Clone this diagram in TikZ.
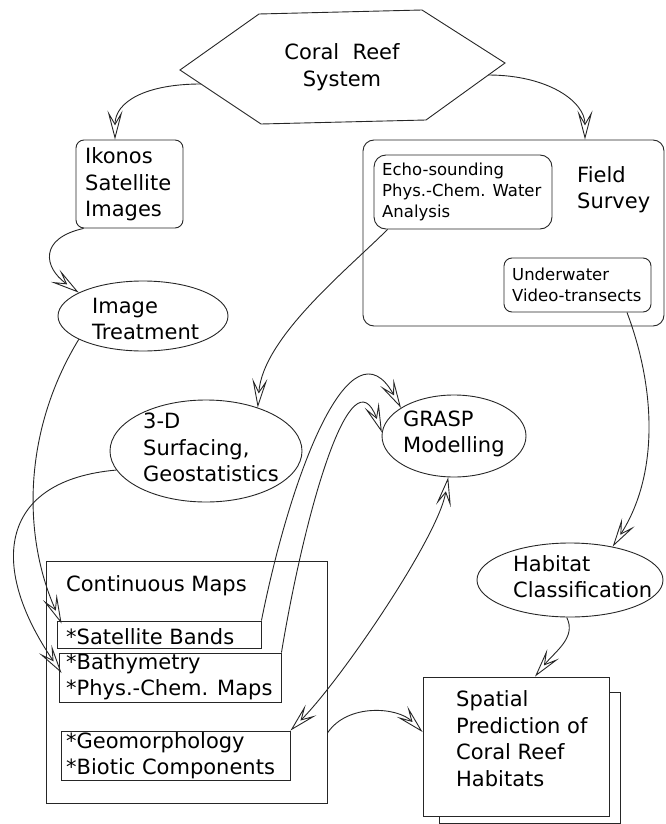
\documentclass[tikz,border=0pt]{standalone}
\usepackage{fontspec}
\setmainfont{DejaVu Sans}
\usetikzlibrary{arrows.meta,shapes.geometric}
\begin{document}
\begin{tikzpicture}[x=1pt,y=-1pt,
  ln/.style={draw=black!85, line width=0.9pt},
  rbox/.style={ln, rounded corners=8pt, inner sep=0pt},
  sbox/.style={ln, inner sep=0pt},
  ell/.style={ln, ellipse, inner sep=0pt},
  txt/.style={inner sep=0pt, align=left, anchor=west, font=\fontsize{21}{26.5}\selectfont},
  ctxt/.style={inner sep=0pt, align=center, font=\fontsize{21}{26.5}\selectfont},
  stxt/.style={inner sep=0pt, align=left, anchor=west, font=\fontsize{16.5}{21}\selectfont},
  conn/.style={draw=black!85, line width=0.9pt, -{Stealth[open,length=29pt,width=15pt,inset=13pt]}},
  bconn/.style={draw=black!85, line width=0.9pt, {Stealth[open,length=29pt,width=15pt,inset=13pt]}-{Stealth[open,length=29pt,width=15pt,inset=13pt]}}
]
\useasboundingbox (0,0) rectangle (665,824);

% hexagon
\coordinate (h1) at (259,14);
\coordinate (h2) at (422,10);
\coordinate (h3) at (505,63);
\coordinate (h4) at (426,120);
\coordinate (h5) at (261,124);
\coordinate (h6) at (180,70);
\draw[ln] (h1) -- (h2) -- (h3) -- (h4) -- (h5) -- (h6) -- cycle;
\coordinate (hexL) at (201,84);
\coordinate (hexR) at (488,75);
\node[ctxt] (hex) at (342,67) {Coral\ \ Reef\\System};

% boxes
\node[rbox, minimum width=107pt, minimum height=88pt] (ikonos) at (129.5,184) {};
\node[txt] (ikonosT) at (85,184.5) {Ikonos\\Satellite\\Images};

\node[rbox, rounded corners=11pt, minimum width=301pt, minimum height=186pt] (field) at (513.5,233) {};
\node[txt] (fieldT) at (577,189.5) {Field\\Survey};

\node[rbox, rounded corners=12pt, minimum width=178pt, minimum height=74pt] (echo) at (463,192) {};
\node[stxt] (echoT) at (382,191.5) {Echo-sounding\\Phys.-Chem. Water\\Analysis};

\node[rbox, minimum width=147pt, minimum height=54pt] (under) at (577.5,285) {};
\node[stxt] (underT) at (512,285) {Underwater\\Video-transects};

% ellipses
\node[ell, minimum width=170pt, minimum height=70pt] (imgtr) at (143,316) {};
\node[txt] (imgtrT) at (92,319) {Image\\Treatment};

\node[ell, minimum width=192pt, minimum height=102pt] (threeD) at (206,451) {};
\node[txt] (threeDT) at (143,447.5) {3-D\\Surfacing,\\Geostatistics};

\node[ell, minimum width=144pt, minimum height=82pt] (grasp) at (454,436) {};
\node[txt] (graspT) at (403,434) {GRASP\\Modelling};

\node[ell, minimum width=186pt, minimum height=74pt] (habitat) at (570,580) {};
\node[txt] (habitatT) at (513,576.5) {Habitat\\Classification};

% continuous maps
\node[sbox, minimum width=281pt, minimum height=242pt] (contmaps) at (186.5,682) {};
\node[txt] (contmapsT) at (66,586) {Continuous Maps};

\node[sbox, minimum width=204pt, minimum height=27pt] (satb) at (159,634.5) {};
\node[txt] (satbT) at (66,637) {*Satellite Bands};

\node[sbox, minimum width=222pt, minimum height=49pt] (bathy) at (170,677.5) {};
\node[txt] (bathyT) at (66,676.5) {*Bathymetry\\*Phys.-Chem. Maps};

\node[sbox, minimum width=229pt, minimum height=49pt] (geomo) at (175.5,755.5) {};
\node[txt] (geomoT) at (66,755.5) {*Geomorphology\\*Biotic Components};

% spatial prediction (stacked)
\node[sbox, fill=white, minimum width=181pt, minimum height=131pt] (spatialB) at (529.5,757.5) {};
\node[sbox, fill=white, minimum width=186pt, minimum height=139pt] (spatial) at (516,746.5) {};
\node[txt] (spatialT) at (456,738.5) {Spatial\\Prediction of\\Coral Reef\\Habitats};

% connectors
\draw[conn] (hexL) .. controls +(-55,0) and +(0,-38) .. ([xshift=-14.5pt]ikonos.north);
\draw[conn] (hexR) .. controls +(60,0) and +(0,-38) .. ([xshift=71.5pt]field.north);
\draw[conn] ([xshift=8pt]ikonos.south west) .. controls +(-45,10) and +(-35,-25) .. (imgtr.160);
\draw[conn] ([xshift=14pt]echo.south west) .. controls +(-40,40) and +(5,-70) .. (threeD.40);
\draw[conn] ([xshift=49.5pt]under.south) .. controls +(30,80) and +(45,-70) .. (habitat.38);
\draw[conn] (imgtr.200) .. controls +(-55,90) and +(-40,-90) .. ([xshift=5pt,yshift=-3pt]satb.north west);
\draw[conn] (threeD.192) .. controls +(-115,10) and +(-75,-110) .. ([xshift=3pt,yshift=4.5pt]bathy.west);
\draw[conn] (satb.north east) .. controls +(30,-150) and +(-50,-90) .. (grasp.152);
\draw[conn] (bathy.north east) .. controls +(25,-150) and +(-30,-80) .. (grasp.177);
\draw[bconn] (geomo.north east) .. controls +(50,-50) and +(-10,60) .. (grasp.262);
\draw[conn] ([yshift=-51pt]contmaps.east) .. controls +(20,-30) and +(-25,-25) .. ([yshift=14.5pt]spatial.west);
\draw[conn] (habitat.265) .. controls +(10,20) and +(20,-25) .. ([xshift=19pt]spatial.north);
\end{tikzpicture}
\end{document}
